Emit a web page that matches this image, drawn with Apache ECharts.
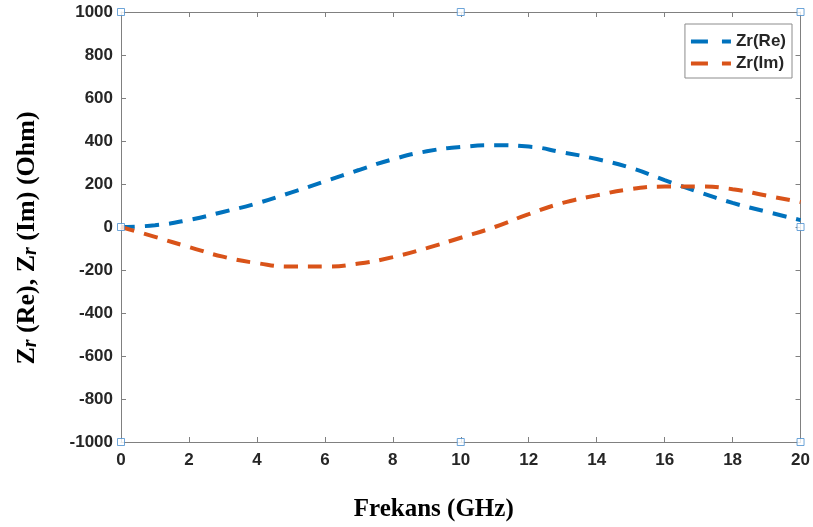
<!DOCTYPE html>
<html><head><meta charset="utf-8">
<script src="https://cdn.jsdelivr.net/npm/echarts@6/dist/echarts.min.js"></script>
<style>html,body{margin:0;padding:0;background:#fff}#c{width:813px;height:527px}</style>
</head><body><div id="c"></div>
<script>
const freq = [0,1,2,3,4,5,6,7,8,9,10,11,12,13,14,15,16,17,18,19,20];
const zrRe = [0,8,33,70,110,160,212,265,315,352,372,380,374,347,316,275,218,163,112,71,32];
const zrIm = [0,-46,-93,-138,-168,-184,-184,-170,-140,-98,-50,0,60,112,147,176,188,188,176,146,116];
const boxMarkers = [[0,1000],[10,1000],[20,1000],[0,0],[20,0],[0,-1000],[10,-1000],[20,-1000]];

const labelFont = {color:'#262626', fontFamily:'Liberation Sans, Arial', fontWeight:'bold', fontSize:17};
const axisLine = {show:true, onZero:false, lineStyle:{color:'#808080', width:1}};
const axisTick = {show:true, inside:true, length:5, lineStyle:{color:'#808080'}};
const plain = v => String(v);
const dashIcon = 'path://M0,0h17v4h-17zM31,0h9v4h-9z';

const chart = echarts.init(document.getElementById('c'));
chart.setOption({
  animation:false,
  grid:{left:121, right:10, top:12, bottom:85, containLabel:false},
  legend:{
    right:21, top:24, orient:'vertical', itemWidth:40, itemHeight:4, itemGap:5,
    icon:dashIcon,
    backgroundColor:'#fff', borderColor:'#8c8c8c', borderWidth:1, padding:[9,6,6,6],
    textStyle:{color:'#262626', fontFamily:'Liberation Sans, Arial', fontWeight:'bold', fontSize:17, lineHeight:17},
    data:['Zr(Re)','Zr(Im)']
  },
  xAxis:[{
    type:'value', min:0, max:20, interval:2, position:'bottom',
    axisLine, axisTick, splitLine:{show:false},
    axisLabel:Object.assign({margin:10, formatter:plain}, labelFont),
    name:'Frekans (GHz)', nameLocation:'middle', nameGap:55,
    nameTextStyle:{color:'#000', fontFamily:'Liberation Serif, Times New Roman', fontWeight:'bold', fontSize:25, padding:[0,54,0,0]}
  },{
    type:'value', min:0, max:20, interval:2, position:'top',
    axisLine, axisTick, axisLabel:{show:false}, splitLine:{show:false}
  }],
  yAxis:[{
    type:'value', min:-1000, max:1000, interval:200, position:'left',
    axisLine, axisTick, splitLine:{show:false},
    axisLabel:Object.assign({margin:8, formatter:plain}, labelFont),
    name:'{b|Z}{i|r}{b| (Re), Z}{i|r}{b| (Im) (Ohm)}', nameLocation:'middle', nameGap:80,
    nameTextStyle:{
      color:'#000', padding:[0,22,0,0],
      rich:{
        b:{fontFamily:'Liberation Serif, Times New Roman', fontWeight:'bold', fontSize:26, color:'#000'},
        i:{fontFamily:'Liberation Serif, Times New Roman', fontWeight:'bold', fontStyle:'italic', fontSize:20, color:'#000', verticalAlign:'bottom', padding:[8,0,0,0]}
      }
    }
  },{
    type:'value', min:-1000, max:1000, interval:200, position:'right',
    axisLine, axisTick, axisLabel:{show:false}, splitLine:{show:false}
  }],
  series:[{
    name:'Zr(Re)', type:'line', symbol:'none', smooth:true,
    data:freq.map((f,i)=>[f,zrRe[i]]),
    lineStyle:{color:'#0072BD', width:4, type:[14,10]}, itemStyle:{color:'#0072BD'}
  },{
    name:'Zr(Im)', type:'line', symbol:'none', smooth:true,
    data:freq.map((f,i)=>[f,zrIm[i]]),
    lineStyle:{color:'#D95319', width:4, type:[14,10]}, itemStyle:{color:'#D95319'}
  },{
    name:'box', type:'scatter', symbol:'rect', symbolSize:7, z:5,
    data:boxMarkers,
    itemStyle:{color:'#fff', borderColor:'#4a8fd0', borderWidth:1}
  }]
});
</script></body></html>
